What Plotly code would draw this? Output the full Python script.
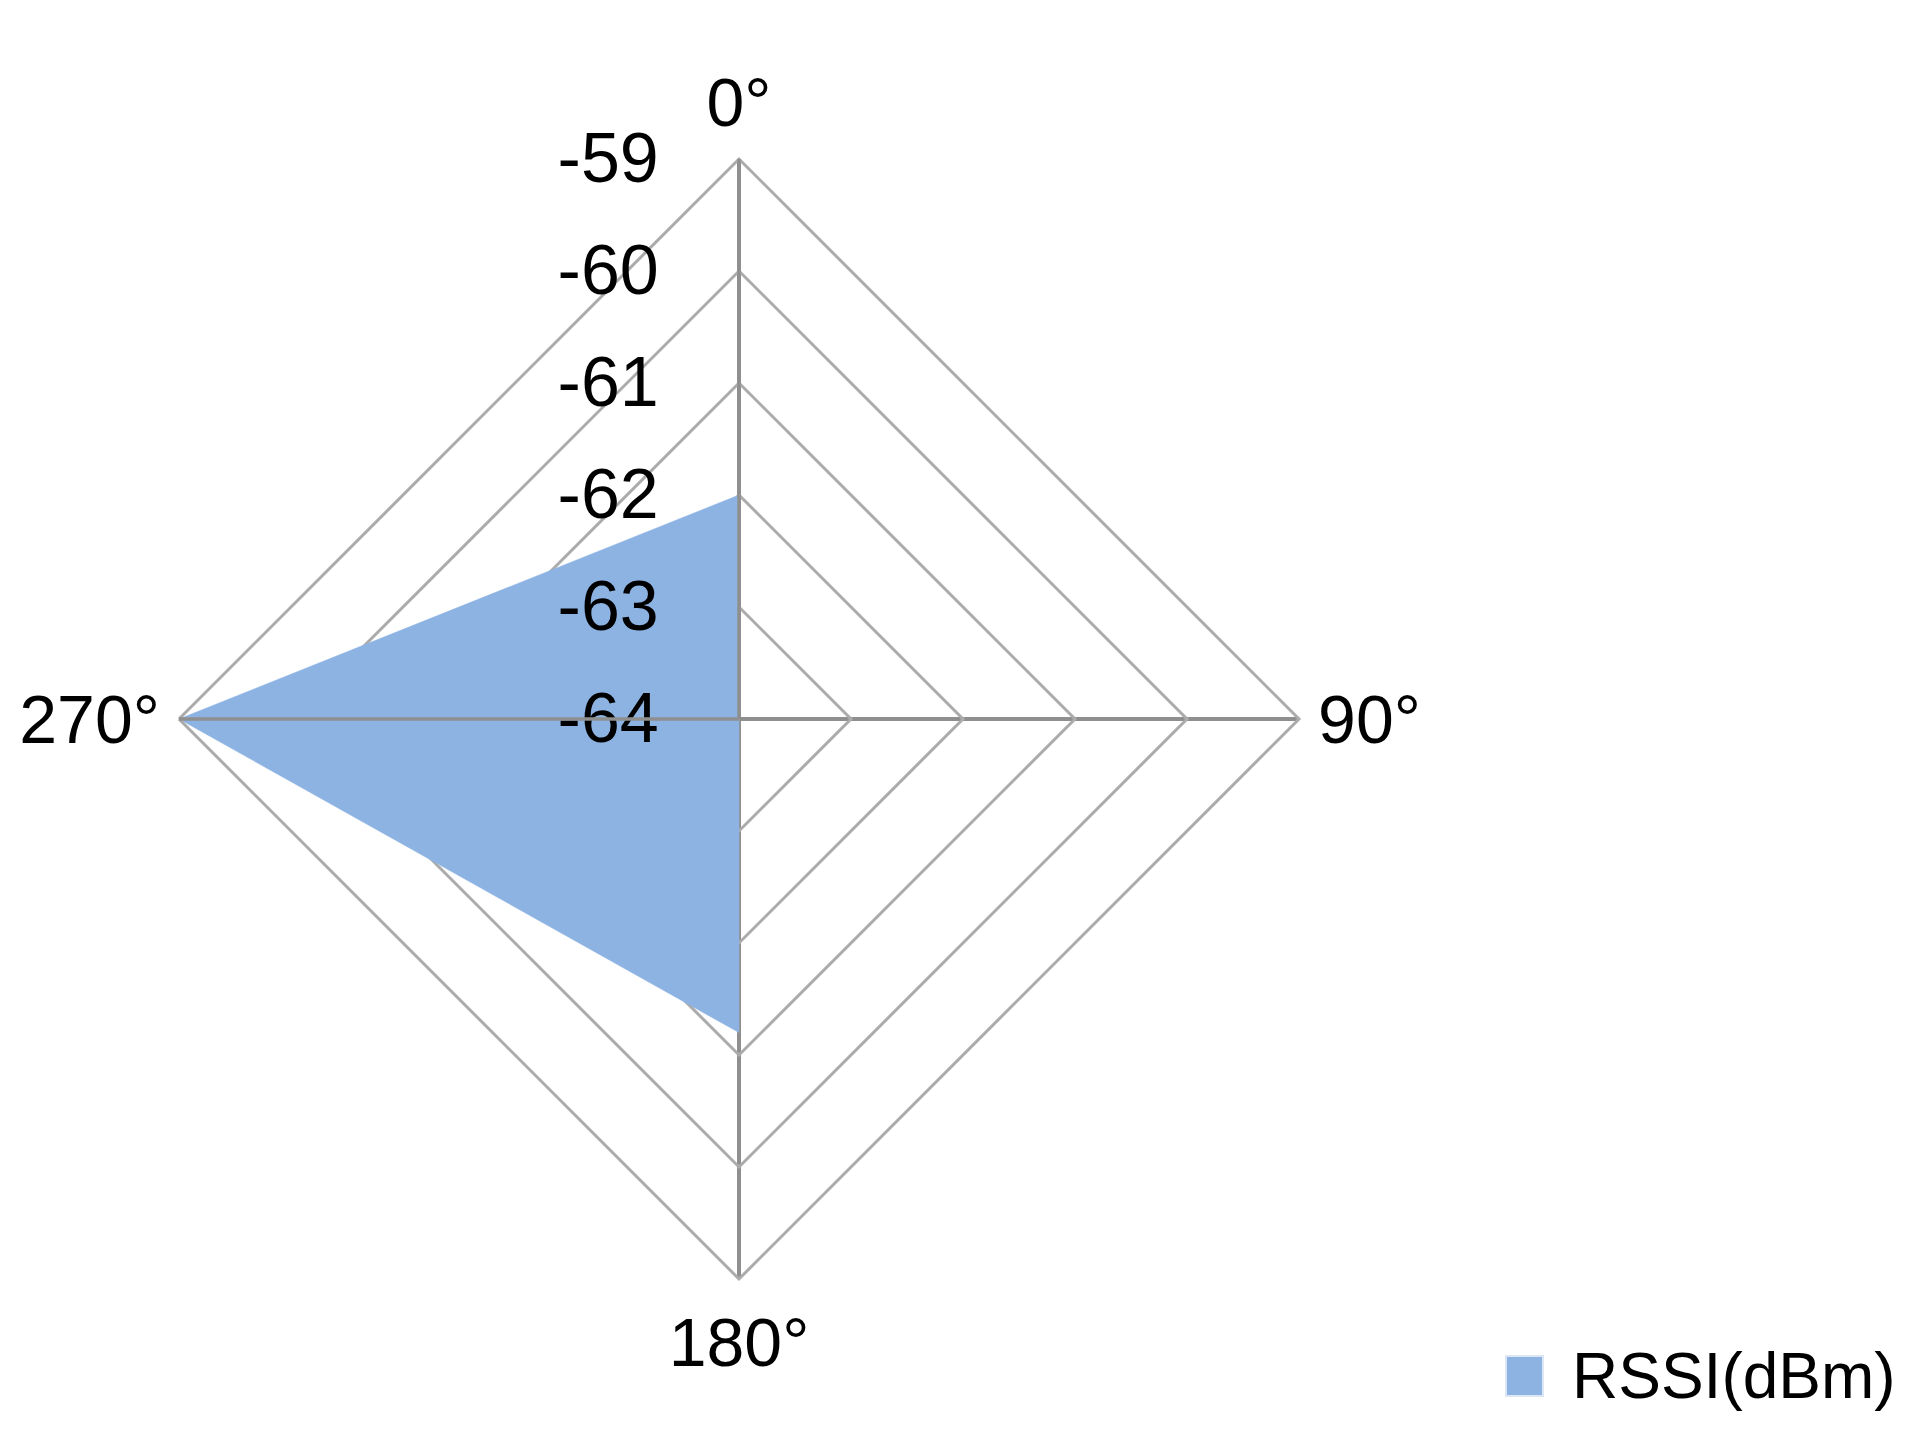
import plotly.graph_objects as go

# Data
categories = ["0°", "90°", "180°", "270°"]
rssi_values = [-62, -64, -61.2, -59]
radial_ticks = [-64, -63, -62, -61, -60, -59]
series_name = "RSSI(dBm)"

FONT = "Liberation Sans"
W, H = 1910, 1431
cx, cy, R = 731, 711, 560
FILL = "#8DB3E2"
RING = "#ABABAB"
SPOKE = "#8F8F8F"

theta = categories + [categories[0]]
r = rssi_values + [rssi_values[0]]

dom = dict(x=[(cx - R) / W, (cx + R) / W],
           y=[(H - cy - R) / H, (H - cy + R) / H])

fig = go.Figure()
fig.add_trace(go.Scatterpolar(
    r=r, theta=theta, mode="lines", fill="toself",
    fillcolor=FILL, line=dict(color=FILL, width=0.5),
    name=series_name, showlegend=False, subplot="polar",
))
# overlay subplot: only draws the 270° spoke above the filled area
fig.add_trace(go.Scatterpolar(
    r=[], theta=[], mode="lines", showlegend=False, subplot="polar2",
    hoverinfo="skip",
))

fig.update_layout(
    width=W, height=H,
    paper_bgcolor="white",
    margin=dict(l=0, r=0, t=0, b=0),
    font=dict(family=FONT, color="black"),
    showlegend=False,
    polar=dict(
        domain=dom,
        bgcolor="rgba(0,0,0,0)",
        gridshape="linear",
        angularaxis=dict(
            type="category", categoryarray=categories,
            rotation=90, direction="clockwise",
            showgrid=True, gridcolor=SPOKE, gridwidth=3.5,
            showline=True, linecolor=RING, linewidth=3,
            ticks="outside", ticklen=4, tickcolor="rgba(0,0,0,0)",
            tickfont=dict(size=68, family=FONT, color="black"),
            layer="above traces",
        ),
        radialaxis=dict(
            range=[-64, -59], tickvals=radial_ticks,
            ticktext=[str(v) for v in radial_ticks],
            angle=90, side="counterclockwise",
            showgrid=True, gridcolor=RING, gridwidth=3,
            showline=True, linecolor=SPOKE, linewidth=3.5,
            ticks="outside", ticklen=54, tickcolor="rgba(0,0,0,0)",
            tickangle=90,
            tickfont=dict(size=70, family=FONT, color="black"),
            layer="above traces",
        ),
    ),
    polar2=dict(
        domain=dom,
        bgcolor="rgba(0,0,0,0)",
        gridshape="linear",
        angularaxis=dict(
            type="category", categoryarray=categories,
            rotation=90, direction="clockwise",
            showgrid=False, showline=False, showticklabels=False, ticks="",
        ),
        radialaxis=dict(
            range=[-64, -59], angle=180,
            showgrid=False, showline=True, linecolor=SPOKE, linewidth=3.5,
            showticklabels=False, ticks="",
        ),
    ),
    shapes=[dict(
        type="rect", xref="paper", yref="paper",
        x0=1498 / W, x1=1535 / W, y0=(H - 1388) / H, y1=(H - 1348) / H,
        fillcolor=FILL, line=dict(color="#DCE6F4", width=2),
    )],
    annotations=[dict(
        text=series_name, xref="paper", yref="paper",
        x=1562 / W, y=(H - 1368) / H, xanchor="left", yanchor="middle",
        showarrow=False, font=dict(size=64, family=FONT, color="black"),
    )],
)

fig.write_html("out.html")
